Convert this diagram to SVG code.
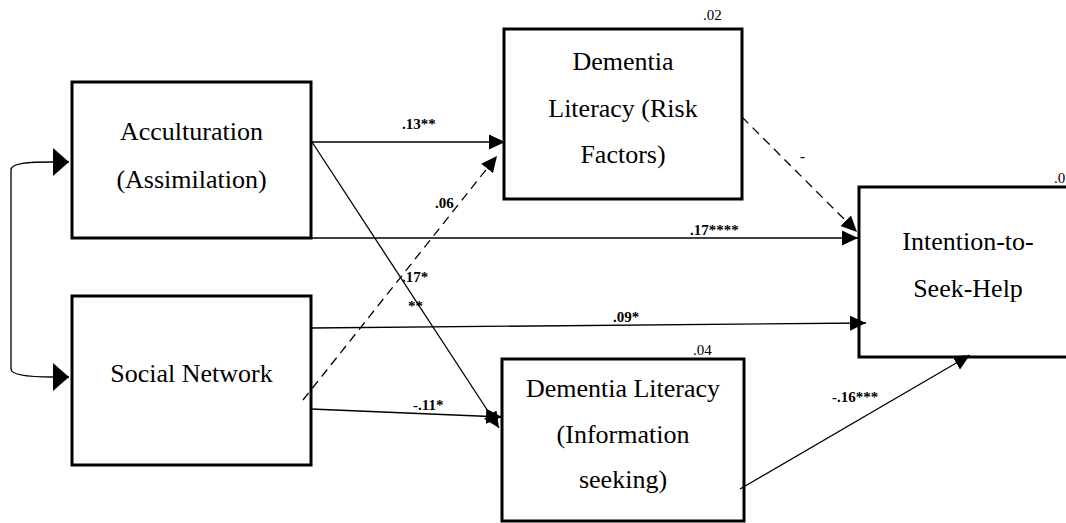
<svg xmlns="http://www.w3.org/2000/svg" width="1066" height="523" viewBox="0 0 1066 523">
<style>
.box{fill:#fff;stroke:#000;stroke-width:3}
text{font-family:'Liberation Serif','Times New Roman',Times,'DejaVu Serif',serif;fill:#000}
.nt{font-size:26px;text-anchor:middle}
.r2{font-size:15px}
.lb{font-size:15px;font-weight:bold}
.ln{fill:none;stroke:#000;stroke-width:1.3}
.ds{stroke-dasharray:9,6}
</style>
<defs>
<marker id="ah" markerUnits="userSpaceOnUse" markerWidth="16" markerHeight="16" viewBox="0 0 16 16" refX="16" refY="8" orient="auto"><path d="M0,0.5 L16,8 L0,15.5 z" fill="#000"/></marker>
<marker id="big" markerUnits="userSpaceOnUse" markerWidth="16" markerHeight="28" viewBox="0 0 16 28" refX="16" refY="14" orient="auto-start-reverse"><path d="M0,0 L16,14 L0,28 z" fill="#000"/></marker>
</defs>
<rect width="1066" height="523" fill="#fff"/>
<g id="acculturation">
<rect class="box" x="72" y="82" width="239" height="156"/>
<text class="nt" x="191.5" y="140" font-family="Liberation Serif, serif">Acculturation</text>
<text class="nt" x="191.5" y="188">(Assimilation)</text>
</g>
<g id="social-network">
<rect class="box" x="72" y="296" width="239" height="169"/>
<text class="nt" x="191.5" y="382">Social Network</text>
</g>
<g id="risk-factors">
<rect class="box" x="504" y="29" width="238" height="170"/>
<text class="nt" x="623" y="70">Dementia</text>
<text class="nt" x="623" y="117">Literacy (Risk</text>
<text class="nt" x="623" y="163">Factors)</text>
<text class="r2" x="703" y="20">.02</text>
</g>
<g id="information-seeking">
<rect class="box" x="502" y="359" width="242" height="162"/>
<text class="nt" x="623" y="397">Dementia Literacy</text>
<text class="nt" x="623" y="443">(Information</text>
<text class="nt" x="623" y="488">seeking)</text>
<text class="r2" x="693" y="355">.04</text>
</g>
<g id="intention">
<rect class="box" x="859" y="187" width="218" height="170"/>
<text class="nt" x="968" y="250">Intention-to-</text>
<text class="nt" x="968" y="297">Seek-Help</text>
<text class="r2" x="1054" y="183">.0</text>
</g>
<g id="connectors">
<path class="ln" d="M69,162 L53,162 C28,162 11,163 11,170 L11,369 C11,375 28,377 53,377 L69,377" marker-start="url(#big)" marker-end="url(#big)"/>
<path class="ln" d="M312,142 L505,142" marker-end="url(#ah)"/>
<path class="ln" d="M312,142 L499,428" marker-end="url(#ah)"/>
<path class="ln ds" d="M303,400 L497,156" marker-end="url(#ah)"/>
<path class="ln" d="M311,238 L858,238" marker-end="url(#ah)"/>
<path class="ln ds" d="M742,117 L857,232" marker-end="url(#ah)"/>
<path class="ln" d="M311,328 L866,323" marker-end="url(#ah)"/>
<path class="ln" d="M311,409 L502,417" marker-end="url(#ah)"/>
<path class="ln" d="M740,489 L970,355" marker-end="url(#ah)"/>
<text class="lb" x="402" y="129">.13**</text>
<text class="lb" x="435" y="208">.06</text>
<text class="lb" x="402" y="282">.17*</text>
<text class="lb" x="408" y="311">**</text>
<text class="lb" x="690" y="235">.17****</text>
<text class="lb" x="800" y="161">-</text>
<text class="lb" x="613" y="322">.09*</text>
<text class="lb" x="413" y="410">-.11*</text>
<text class="lb" x="832" y="402">-.16***</text>
</g>
</svg>
